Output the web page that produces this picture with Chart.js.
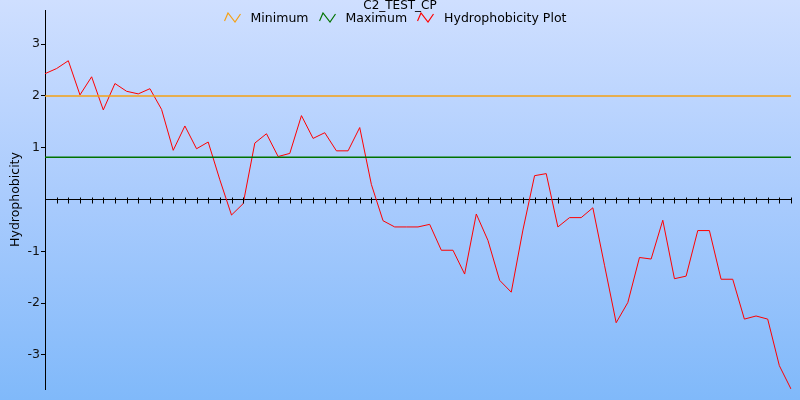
<!DOCTYPE html>
<html>
<head>
<meta charset="utf-8">
<script src="https://cdn.jsdelivr.net/npm/chart.js@4"></script>
<style>
  body { margin: 0; }
  #wrap {
    position: relative; width: 800px; height: 400px; overflow: hidden;
    background: linear-gradient(to bottom, #cfdfff 0%, #a9cbfd 50%, #80b9fa 100%);
    font-family: 'DejaVu Sans', sans-serif; color: #000;
  }
  #title { position: absolute; left: 0; top: -1px; width: 800px; text-align: center; font-size: 12px; line-height: 12px; }
  #legend { position: absolute; left: 0; top: 12px; width: 800px; display: flex; justify-content: center; font-size: 12.5px; line-height: 12px; }
  #legend span { margin: 0 10px 0 10px; white-space: nowrap; }
  canvas { position: absolute; left: 0; top: 0; }
</style>
</head>
<body>
<div id="wrap">
  <canvas id="myChart" width="800" height="400"></canvas>
  <div id="title">C2_TEST_CP</div>
  <div id="legend"></div>
</div>
<script>
// residue positions (x) and smoothed hydrophobicity values
const positions = [];
for (let i = 1; i <= 65; i++) positions.push(i);

const hydrophobicity = [
  2.43, 2.53, 2.68, 2.02, 2.37, 1.73, 2.24, 2.09, 2.04, 2.14,
  1.74, 0.95, 1.42, 0.98, 1.11, 0.38, -0.30, -0.08, 1.09, 1.27,
  0.83, 0.89, 1.62, 1.18, 1.29, 0.94, 0.94, 1.39, 0.29, -0.41,
  -0.53, -0.53, -0.53, -0.48, -0.98, -0.98, -1.44, -0.28, -0.79, -1.56,
  -1.79, -0.59, 0.46, 0.50, -0.53, -0.35, -0.35, -0.16, -1.27, -2.38,
  -1.99, -1.12, -1.15, -0.40, -1.53, -1.48, -0.60, -0.60, -1.54, -1.54,
  -2.31, -2.25, -2.31, -3.21, -3.66
];

const minimumLevel = 2.0;
const maximumLevel = 0.815;

const yTicks = [-3, -2, -1, 1, 2, 3];
const seriesNames = ['Minimum', 'Maximum', 'Hydrophobicity Plot'];
const seriesColors = ['rgb(245,160,20)', 'rgb(0,115,0)', 'rgb(255,0,0)'];

// html legend with small zigzag icons
const legend = document.getElementById('legend');
seriesNames.forEach((name, i) => {
  legend.innerHTML +=
    '<svg width="17" height="11" viewBox="0 0 17 11"><polyline points="0.5,9 4,1 11,10 16.5,2" fill="none" stroke="' +
    seriesColors[i] + '" stroke-width="1.2"/></svg><span>' + name + '</span>';
});

// ticks across the zero line, one per position
const zeroTicks = {
  id: 'zeroTicks',
  afterDatasetsDraw(chart) {
    const ctx = chart.ctx;
    const x = chart.scales.x, y = chart.scales.y;
    const y0 = Math.round(y.getPixelForValue(0)) + 0.5;
    ctx.save();
    ctx.strokeStyle = '#000';
    ctx.lineWidth = 1;
    ctx.beginPath();
    for (let i = 1; i < x.ticks.length; i++) {
      const px = Math.round(x.getPixelForTick(i)) + 0.5;
      ctx.moveTo(px, y0 - 3);
      ctx.lineTo(px, y0 + 3);
    }
    ctx.stroke();
    ctx.restore();
  }
};

Chart.defaults.font.family = "'DejaVu Sans', sans-serif";
Chart.defaults.color = '#000';

new Chart(document.getElementById('myChart'), {
  type: 'line',
  data: {
    labels: positions,
    datasets: [
      { label: seriesNames[0], data: positions.map(() => minimumLevel), borderColor: seriesColors[0], borderWidth: 1.4, pointRadius: 0 },
      { label: seriesNames[1], data: positions.map(() => maximumLevel), borderColor: seriesColors[1], borderWidth: 1.4, pointRadius: 0 },
      { label: seriesNames[2], data: hydrophobicity, borderColor: seriesColors[2], borderWidth: 1, pointRadius: 0, tension: 0 }
    ]
  },
  plugins: [zeroTicks],
  options: {
    responsive: false,
    animation: false,
    layout: { padding: { left: 0, top: 10, right: 9, bottom: 11 } },
    plugins: {
      legend: { display: false },
      title: { display: false },
      tooltip: { enabled: false }
    },
    scales: {
      x: {
        type: 'category',
        position: { y: 0 },
        offset: false,
        grid: { display: false },
        border: { color: '#000', width: 1 },
        ticks: { display: false, autoSkip: false }
      },
      y: {
        min: -3.66,
        max: 3.66,
        afterFit(scale) { scale.width = 45; },
        afterBuildTicks(scale) { scale.ticks = yTicks.map(v => ({ value: v })); },
        grid: { drawOnChartArea: false, color: '#000', tickLength: 4 },
        border: { color: '#000', width: 1 },
        ticks: { includeBounds: false, padding: 1, font: { size: 12.5 }, color: '#111' },
        title: { display: true, text: 'Hydrophobicity', font: { size: 12.5 }, color: '#000', padding: { top: 8, bottom: 0 } }
      }
    }
  }
});
</script>
</body>
</html>
